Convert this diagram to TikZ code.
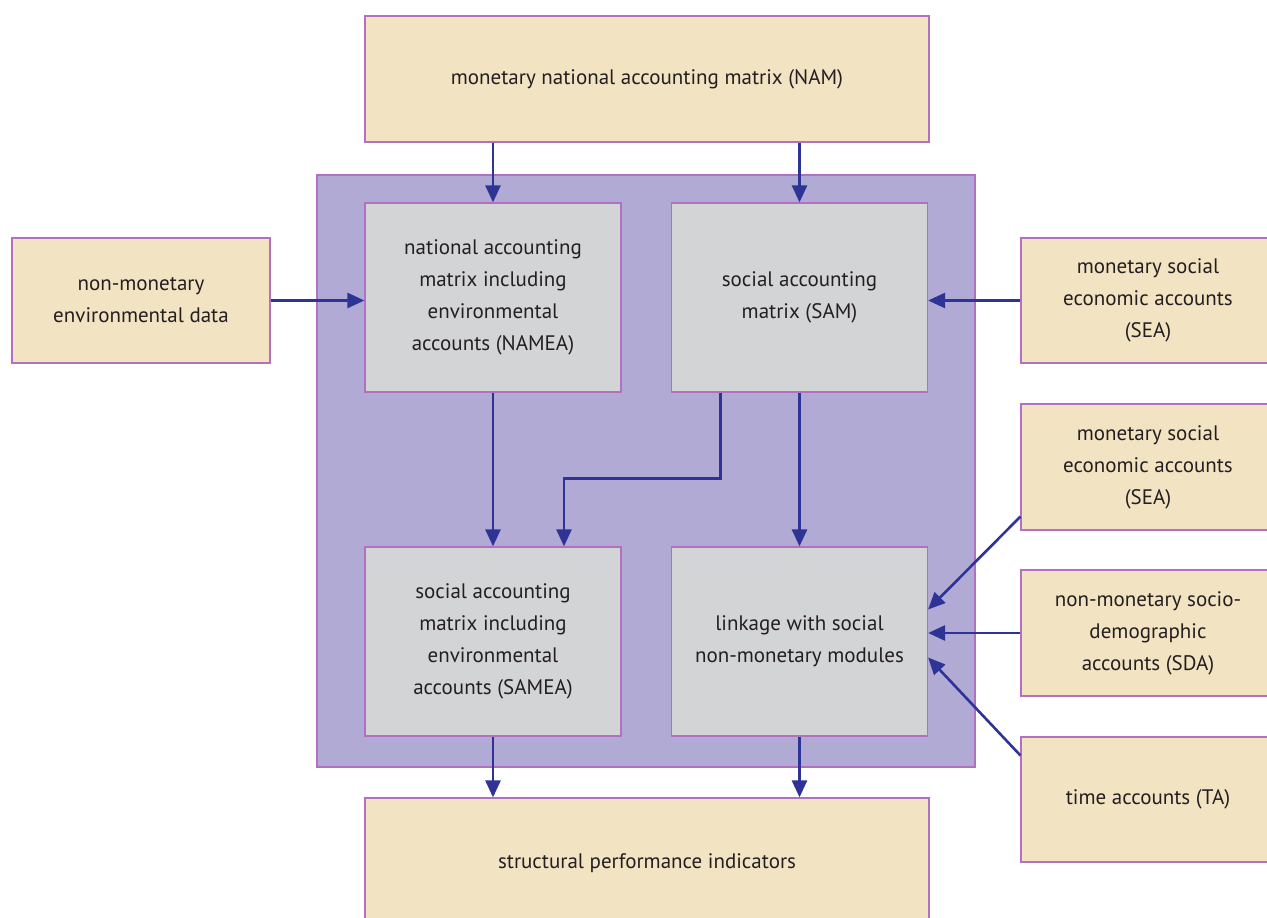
\documentclass[tikz,border=0pt]{standalone}
\usepackage{fontspec}
\setmainfont{PT Sans}
\usepackage{xcolor}
\usepackage{tikz}
\usetikzlibrary{
  arrows.meta,
  positioning,
  calc
}
\definecolor{SandFill}{RGB}{242,228,194}
\definecolor{EdgePurple}{RGB}{178,112,192}
\definecolor{CoreLilac}{RGB}{176,170,212}
\definecolor{PanelGray}{RGB}{211,212,214}
\definecolor{ArrowNavy}{RGB}{46,52,150}
\definecolor{InkGray}{RGB}{35,31,32}
\tikzset{
  %%── source / result boxes ─────────────────────────────────
  srcbox/.style = {
    rectangle, draw = EdgePurple, fill = SandFill,
    line width = 1.2pt, inner sep = 0pt,
    align = center, text = InkGray,
    font = \fontsize{21}{32}\selectfont
  },
  %%── matrix boxes inside the core ──────────────────────────
  matbox/.style = {
    rectangle, draw = EdgePurple, fill = PanelGray,
    line width = 1.2pt, inner sep = 0pt,
    minimum width = 256pt, minimum height = 189pt,
    align = center, text = InkGray,
    font = \fontsize{21}{32}\selectfont
  },
  %%── core background ───────────────────────────────────────
  corebox/.style = {
    rectangle, draw = EdgePurple, fill = CoreLilac,
    line width = 1.2pt, inner sep = 0pt
  },
  %%── arrows ────────────────────────────────────────────────
  arr/.style = {-{Triangle[length=17pt, width=15pt]},
    line width = 2.6pt, color = ArrowNavy},
}

\begin{document}
\begin{tikzpicture}[x=1pt, y=-1pt]
  \useasboundingbox (0,0) rectangle (1267,918);
  \clip (0,0) rectangle (1267,918);
  % core area
  \node[corebox, minimum width=658pt, minimum height=592pt] (core) at (646,471) {};
  % top and bottom
  \node[srcbox, minimum width=564pt, minimum height=126pt] (nam) at (647,79)
    {monetary national accounting matrix (NAM)};
  \node[srcbox, minimum width=564pt, minimum height=130pt] (spi) at (647,863)
    {structural performance indicators};
  % matrices
  \node[matbox] (namea) at (493,297.5)
    {national accounting\\matrix including\\environmental\\accounts (NAMEA)};
  \node[matbox] (sam) at (799.5,297.5)
    {social accounting\\matrix (SAM)};
  \node[matbox] (samea) at (493,641.5)
    {social accounting\\matrix including\\environmental\\accounts (SAMEA)};
  \node[matbox] (link) at (799.5,641.5)
    {linkage with social\\non-monetary modules};
  % side inputs
  \node[srcbox, minimum width=258pt, minimum height=125pt] (env) at (141,300.5)
    {non-monetary\\environmental data};
  \node[srcbox, minimum width=254pt, minimum height=125pt] (sea) at (1148,300.5)
    {monetary social\\economic accounts\\(SEA)};
  \node[srcbox, minimum width=254pt, minimum height=126pt] (seb) at (1148,467)
    {monetary social\\economic accounts\\(SEA)};
  \node[srcbox, minimum width=254pt, minimum height=126pt] (sda) at (1148,633)
    {non-monetary socio-\\demographic\\accounts (SDA)};
  \node[srcbox, minimum width=254pt, minimum height=125pt] (ta) at (1148,799.5)
    {time accounts (TA)};

  \draw[arr] (nam.south -| namea.north) -- (namea.north);
  \draw[arr] (nam.south -| sam.north) -- (sam.north);
  \draw[arr] (env.east) -- (env.east -| namea.west);
  \draw[arr] (sea.west) -- (sea.west -| sam.east);
  \draw[arr] (namea.south) -- (samea.north);
  \draw[arr] ($(sam.south)+(-79,0)$) -- ++(0,86) -| ($(samea.north)+(71,0)$);
  \draw[arr] (sam.south) -- (link.north);
  \draw[arr] ($(seb.south west)+(0,-14)$) -- ($(link.east)+(0,-32)$);
  \draw[arr] (sda.west) -- (sda.west -| link.east);
  \draw[arr] ($(ta.north west)+(0,19)$) -- ($(link.east)+(0,16)$);
  \draw[arr] (samea.south) -- (spi.north -| samea.south);
  \draw[arr] (link.south) -- (spi.north -| link.south);
\end{tikzpicture}
\end{document}
